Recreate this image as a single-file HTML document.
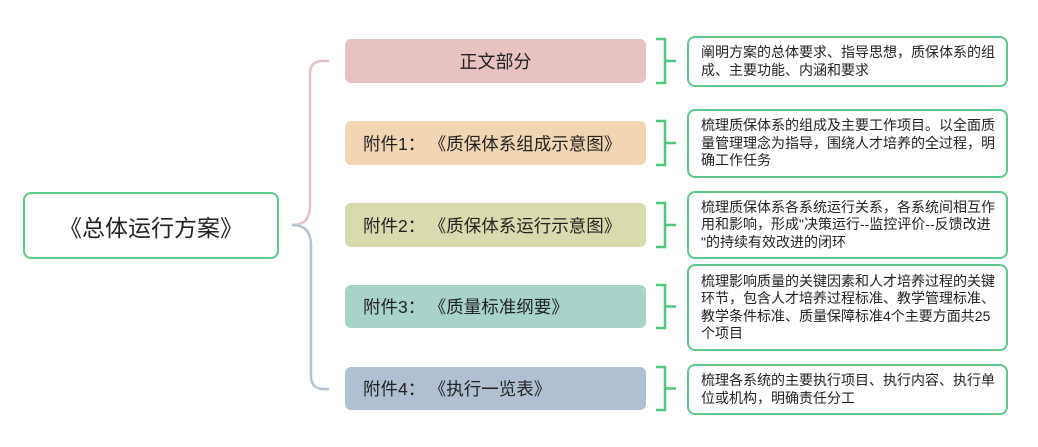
<!DOCTYPE html>
<html><head><meta charset="utf-8">
<style>
html,body{margin:0;padding:0;background:#fff;}
body{width:1038px;height:447px;position:relative;overflow:hidden;font-family:"Liberation Sans","Noto Sans CJK SC",sans-serif;color:#222;}
.root{position:absolute;left:23px;top:192px;width:252px;height:63px;border:2.5px solid #5ccb8a;border-radius:8px;display:flex;align-items:center;justify-content:center;font-size:23px;}
.t{position:absolute;left:345px;width:301px;height:44px;border-radius:6px;display:flex;align-items:center;font-size:17.5px;white-space:nowrap;}
.t span.x{padding-left:18px;}
.c{display:inline-block;width:1.2em;}
.d{position:absolute;left:687px;width:321px;border:2px solid #5cc98a;border-radius:8px;display:flex;align-items:center;font-size:14px;line-height:17.5px;white-space:nowrap;box-sizing:border-box;}
.d div{padding-left:12px;}
svg{position:absolute;left:0;top:0;}
</style></head><body>
<svg width="1038" height="447" viewBox="0 0 1038 447">
<path d="M292,225 C305,225 310,218 310,205 L310,74 Q310,61 323,61 L329,61" fill="none" stroke="#e8c2c2" stroke-width="2.5"/>
<path d="M292,225 C305,225 311,232 311,245 L311,376 Q311,389 324,389 L329,389" fill="none" stroke="#b4c3d4" stroke-width="2.5"/>
<g fill="none" stroke="#4fc87d" stroke-width="2.5">
<path d="M656,39 L665,39 L665,83 L656,83 M665,61 L676,61"/>
<path d="M656,121 L665,121 L665,165 L656,165 M665,143 L676,143"/>
<path d="M656,203 L665,203 L665,247 L656,247 M665,225 L676,225"/>
<path d="M656,285 L665,285 L665,328 L656,328 M665,306.5 L676,306.5"/>
<path d="M656,367 L665,367 L665,410 L656,410 M665,388.5 L676,388.5"/>
</g>
</svg>
<div class="root">《总体运行方案》</div>

<div class="t" style="top:39px;background:#e7c2c1;justify-content:center;font-size:18px;">正文部分</div>
<div class="t" style="top:121px;background:#f2d5b3;"><span class="x">附件1<span class="c">：</span>《质保体系组成示意图》</span></div>
<div class="t" style="top:203px;background:#d8dbae;"><span class="x">附件2<span class="c">：</span>《质保体系运行示意图》</span></div>
<div class="t" style="top:285px;height:43px;background:#a8d3c9;"><span class="x">附件3<span class="c">：</span>《质量标准纲要》</span></div>
<div class="t" style="top:367px;height:43px;background:#b0c0d2;"><span class="x">附件4<span class="c">：</span>《执行一览表》</span></div>

<div class="d" style="top:36px;height:51px;"><div>阐明方案的总体要求、指导思想，质保体系的组<br>成、主要功能、内涵和要求</div></div>
<div class="d" style="top:109px;height:69px;"><div>梳理质保体系的组成及主要工作项目。以全面质<br>量管理理念为指导，围绕人才培养的全过程，明<br>确工作任务</div></div>
<div class="d" style="top:191px;height:68px;"><div>梳理质保体系各系统运行关系，各系统间相互作<br>用和影响，形成"决策运行--监控评价--反馈改进<br>"的持续有效改进的闭环</div></div>
<div class="d" style="top:264px;height:87px;"><div>梳理影响质量的关键因素和人才培养过程的关键<br>环节，包含人才培养过程标准、教学管理标准、<br>教学条件标准、质量保障标准4个主要方面共25<br>个项目</div></div>
<div class="d" style="top:364px;height:51px;"><div>梳理各系统的主要执行项目、执行内容、执行单<br>位或机构，明确责任分工</div></div>
</body></html>
